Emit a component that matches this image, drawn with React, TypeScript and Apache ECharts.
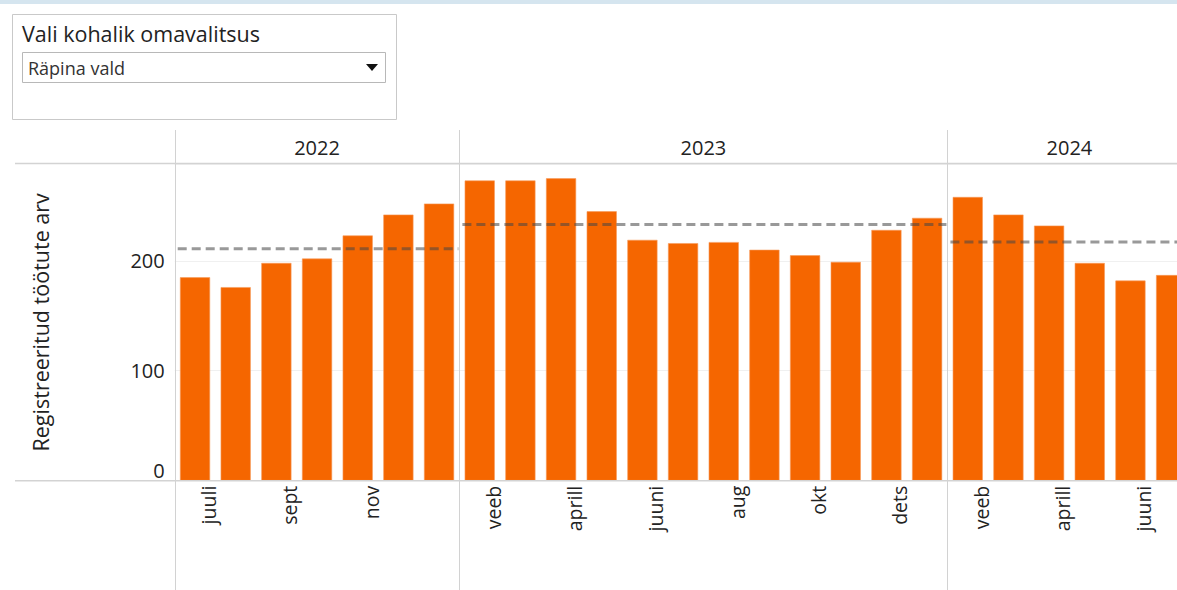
import React, { useEffect, useRef } from "react";
import * as echarts from "echarts";

// ---- data ----
const years = ["2022", "2023", "2024"];
const months2022 = ["juuni", "juuli", "aug", "sept", "okt", "nov", "dets"];
const months2023 = ["jaan", "veeb", "märts", "aprill", "mai", "juuni", "juuli", "aug", "sept", "okt", "nov", "dets"];
const months2024 = ["jaan", "veeb", "märts", "aprill", "mai", "juuni"];
const values2022 = [185, 176, 198, 202, 223, 242, 252];
const values2023 = [273, 273, 275, 245, 219, 216, 217, 210, 205, 199, 228, 239];
const values2024 = [258, 242, 232, 198, 182, 187];
const yearAverages = [211, 233, 217];
// labels sit on month boundaries (start of month), every other month
const monthTickLabels = [
  "", "juuli", "", "sept", "", "nov", "",
  "", "veeb", "", "aprill", "", "juuni", "", "aug", "", "okt", "", "dets",
  "", "veeb", "", "aprill", "", "juuni", "",
];
const yTicks = [0, 100, 200];
const yAxisTitle = "Registreeritud töötute arv";
const filterTitle = "Vali kohalik omavalitsus";
const filterValue = "Räpina vald";

const FONT = "Open Sans";
const ORANGE = "#F56600";

export default function App() {
  const ref = useRef<HTMLDivElement>(null);

  useEffect(() => {
    if (!ref.current) return;
    const chart = echarts.init(ref.current, undefined, { renderer: "svg" });

    const monthGroups = [months2022, months2023, months2024];
    const valueGroups = [values2022, values2023, values2024];
    const categories: string[] = [];
    const values: number[] = [];
    const panes: (number | string)[][] = [];
    monthGroups.forEach((ms, yi) => {
      const start = categories.length;
      ms.forEach((m, mi) => {
        categories.push(years[yi] + " " + m);
        values.push(valueGroups[yi][mi]);
      });
      panes.push([start, categories.length - 1, yearAverages[yi], yi]);
    });

    const gridLeft = 174.7;
    const bandW = 40.67;
    const labelShift = 7;

    const option: any = {
      animation: false,
      textStyle: { fontFamily: FONT },
      grid: [
        {
          left: gridLeft,
          top: 164,
          width: bandW * categories.length,
          height: 316.7,
          containLabel: false,
          outerBoundsMode: "none",
        },
        {
          left: gridLeft - labelShift,
          top: 164,
          width: bandW * categories.length,
          height: 316.7,
          containLabel: false,
          outerBoundsMode: "none",
        },
      ],
      xAxis: [
        {
          type: "category",
          gridIndex: 0,
          data: categories,
          position: "top",
          axisLine: { show: false },
          axisTick: { show: false },
          axisLabel: { show: false },
          splitLine: { show: false },
        },
        {
          type: "category",
          gridIndex: 1,
          data: monthTickLabels,
          boundaryGap: false,
          position: "bottom",
          axisLine: { show: false },
          axisTick: { show: false },
          splitLine: { show: false },
          axisLabel: {
            interval: 0,
            rotate: 90,
            margin: 5,
            fontSize: 19.5,
            color: "#222",
            fontFamily: FONT,
          },
        },
      ],
      yAxis: [
        {
          type: "value",
          gridIndex: 0,
          min: 0,
          max: 288,
          interval: 100,
          name: yAxisTitle,
          nameLocation: "middle",
          nameRotate: 90,
          nameGap: 123,
          nameTextStyle: { fontSize: 21.5, color: "#222", fontFamily: FONT },
          axisLine: { show: false },
          axisTick: { show: false },
          axisLabel: {
            margin: 10,
            fontSize: 20,
            color: "#222",
            fontFamily: FONT,
            verticalAlignMinLabel: "bottom",
            formatter: (v: number) => (yTicks.indexOf(v) >= 0 ? String(v) : ""),
          },
          splitLine: { show: true, lineStyle: { color: "#f0f0f0", width: 1 } },
        },
        {
          type: "value",
          gridIndex: 1,
          min: 0,
          max: 288,
          show: false,
          splitLine: { show: false },
        },
      ],
      series: [
        {
          type: "bar",
          xAxisIndex: 0,
          yAxisIndex: 0,
          data: values,
          barCategoryGap: "26%",
          itemStyle: { color: ORANGE, borderColor: "#F79A5A", borderWidth: 0.6 },
          z: 2,
        },
        {
          type: "custom",
          xAxisIndex: 0,
          yAxisIndex: 0,
          clip: false,
          z: 5,
          encode: { x: 0, y: 2 },
          data: panes,
          renderItem: (params: any, api: any) => {
            const s = api.value(0);
            const e = api.value(1);
            const avg = api.value(2);
            const yi = api.value(3);
            const bw = api.size([1, 0])[0];
            const p0 = api.coord([s, avg]);
            const p1 = api.coord([e, avg]);
            const x0 = p0[0] - bw / 2;
            const x1 = p1[0] + bw / 2;
            const xd = Math.round(x0) + 0.5;
            return {
              type: "group",
              children: [
                {
                  type: "line",
                  shape: { x1: xd, y1: 130, x2: xd, y2: 590 },
                  style: { stroke: "#d2d2d2", lineWidth: 1 },
                  z2: 1,
                },
                {
                  type: "text",
                  style: {
                    text: years[yi],
                    x: (x0 + x1) / 2,
                    y: 147,
                    align: "center",
                    verticalAlign: "middle",
                    fontSize: 20,
                    fontFamily: FONT,
                    fill: "#222",
                  },
                },
                {
                  type: "line",
                  shape: { x1: x0 + 3, y1: p0[1], x2: x1 - 1, y2: p1[1] },
                  style: { stroke: "rgba(70,70,70,0.55)", lineWidth: 3, lineDash: [9, 5] },
                  z2: 10,
                },
              ],
            };
          },
        },
      ],
      graphic: [
        { type: "rect", shape: { x: 0, y: 0, width: 1177, height: 4 }, style: { fill: "#d5e5ef" }, z: 10 },
        { type: "rect", shape: { x: 12.5, y: 14.5, width: 384, height: 105 }, style: { fill: "#fff", stroke: "#c9c9c9", lineWidth: 1 }, z: 10 },
        {
          type: "text",
          style: { text: filterTitle, x: 22, y: 33, verticalAlign: "middle", fontSize: 21.5, fontFamily: FONT, fill: "#222" },
          z: 11,
        },
        { type: "rect", shape: { x: 22.5, y: 52.5, width: 363, height: 30 }, style: { fill: "#fff", stroke: "#b8b8b8", lineWidth: 1 }, z: 11 },
        {
          type: "text",
          style: { text: filterValue, x: 28, y: 68, verticalAlign: "middle", fontSize: 18, fontFamily: FONT, fill: "#333" },
          z: 12,
        },
        { type: "polygon", shape: { points: [[366, 64], [378, 64], [372, 71]] }, style: { fill: "#111" }, z: 12 },
        { type: "line", shape: { x1: 15, y1: 163.5, x2: 1177, y2: 163.5 }, style: { stroke: "#d3d3d3", lineWidth: 1.5 }, z: 10 },
        { type: "line", shape: { x1: 15, y1: 480.7, x2: 1177, y2: 480.7 }, style: { stroke: "#d3d3d3", lineWidth: 1.5 }, z: 10 },
      ],
    };

    chart.setOption(option);
    return () => chart.dispose();
  }, []);

  return (
    <div
      ref={ref}
      style={{ position: "fixed", left: 0, top: 0, width: 1177, height: 590, background: "#fff" }}
    />
  );
}
